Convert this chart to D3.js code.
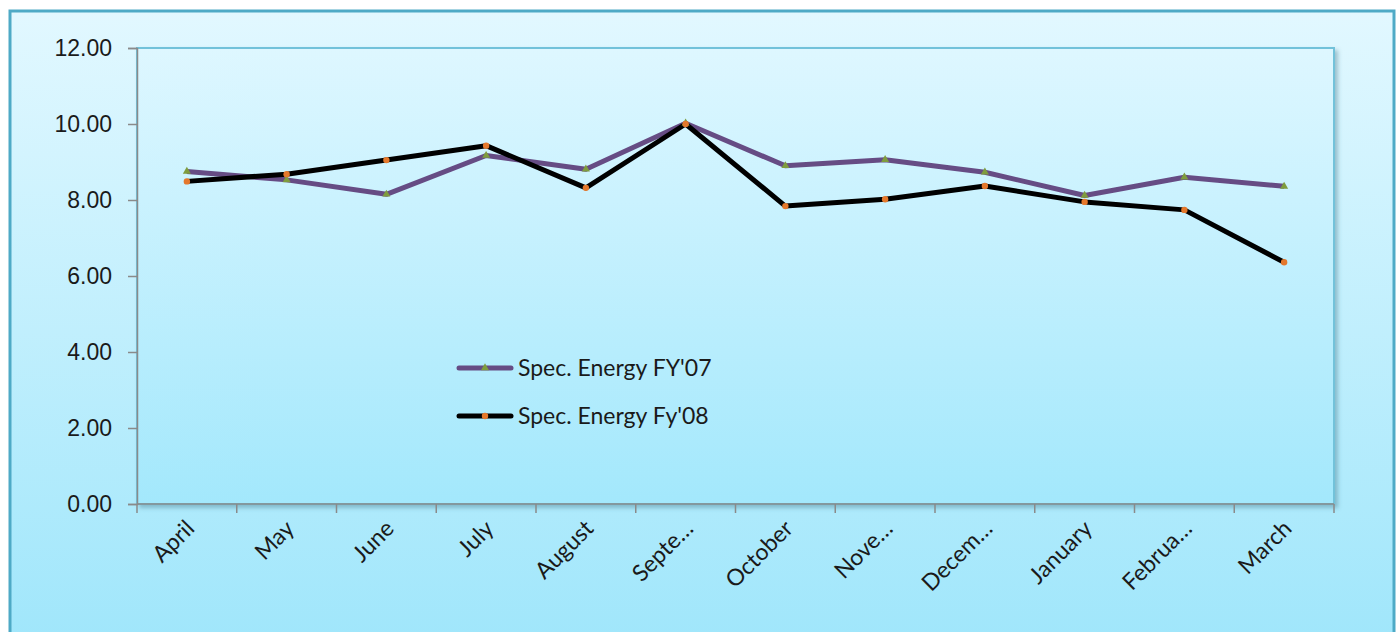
<!DOCTYPE html>
<html>
<head>
<meta charset="utf-8">
<script src="https://cdn.jsdelivr.net/npm/d3@7"></script>
<style>
  body { margin: 0; background: #fff; }
  svg { display: block; }
</style>
</head>
<body>
<div class="chart"></div>
<script>
const months = ["April", "May", "June", "July", "August", "Septe…", "October", "Nove…", "Decem…", "January", "Februa…", "March"]
const fy07 = [8.75, 8.53, 8.15, 9.17, 8.81, 10.02, 8.90, 9.06, 8.73, 8.12, 8.60, 8.36]
const fy08 = [8.49, 8.68, 9.05, 9.43, 8.32, 10.00, 7.84, 8.02, 8.37, 7.95, 7.74, 6.36]
const yTicks = [0, 2, 4, 6, 8, 10, 12]
const seriesNames = ["Spec. Energy FY'07", "Spec. Energy Fy'08"]

const width = 1400
const height = 632
const plot = { left: 137, top: 48, right: 1334, bottom: 504 }
const fontSize = 23

const svg = d3.select(".chart")
  .append("svg")
  .attr("width", width)
  .attr("height", height)
  .style("font-family", "Lato, 'Open Sans', sans-serif")

const defs = svg.append("defs")

const outerGrad = defs.append("linearGradient")
  .attr("id", "outer-grad")
  .attr("x1", 0).attr("y1", 0).attr("x2", 0).attr("y2", 1)
outerGrad.append("stop").attr("offset", "0%").attr("stop-color", "#e2f8ff")
outerGrad.append("stop").attr("offset", "100%").attr("stop-color", "#9fe6fb")

const plotGrad = defs.append("linearGradient")
  .attr("id", "plot-grad")
  .attr("x1", 0).attr("y1", 0).attr("x2", 0).attr("y2", 1)
plotGrad.append("stop").attr("offset", "0%").attr("stop-color", "#def7ff")
plotGrad.append("stop").attr("offset", "100%").attr("stop-color", "#a3e8fc")

const shadow = defs.append("filter")
  .attr("id", "shadow")
  .attr("x", "-5%").attr("y", "-5%").attr("width", "110%").attr("height", "120%")
shadow.append("feDropShadow")
  .attr("dx", 3).attr("dy", 3).attr("stdDeviation", 2)
  .attr("flood-color", "#4a7f90").attr("flood-opacity", 0.45)

// outer chart area
svg.append("rect")
  .attr("x", 10).attr("y", 11)
  .attr("width", 1384).attr("height", 640)
  .attr("fill", "url(#outer-grad)")
  .attr("stroke", "#4eaac6")
  .attr("stroke-width", 3)

// plot area
svg.append("rect")
  .attr("x", plot.left).attr("y", plot.top)
  .attr("width", plot.right - plot.left).attr("height", plot.bottom - plot.top)
  .attr("fill", "url(#plot-grad)")
  .attr("stroke", "#72c2da")
  .attr("stroke-width", 2)
  .attr("filter", "url(#shadow)")

const x = d3.scaleBand()
  .domain(d3.range(months.length))
  .range([plot.left, plot.right])

const y = d3.scaleLinear()
  .domain([0, 12])
  .range([plot.bottom, plot.top])

// y axis
const yAxis = svg.append("g")
  .attr("transform", `translate(${plot.left},0)`)
  .call(d3.axisLeft(y).tickValues(yTicks).tickFormat(d3.format(".2f")).tickSize(9).tickPadding(16))
yAxis.select(".domain").attr("stroke", "#8a8a8a").attr("stroke-width", 1.5)
yAxis.selectAll(".tick line").attr("stroke", "#8a8a8a").attr("stroke-width", 1.5)
yAxis.selectAll(".tick text")
  .attr("fill", "#1a1a1a")
  .attr("font-size", fontSize)

// x axis
const xTickPositions = d3.range(months.length + 1).map(i => plot.left + i * x.step())
const xAxis = svg.append("g")
svg.append("line")
  .attr("x1", plot.left).attr("x2", plot.right)
  .attr("y1", plot.bottom).attr("y2", plot.bottom)
  .attr("stroke", "#8a8a8a").attr("stroke-width", 1.5)
xAxis.selectAll("line.xtick")
  .data(xTickPositions)
  .join("line")
  .attr("class", "xtick")
  .attr("x1", d => d).attr("x2", d => d)
  .attr("y1", plot.bottom).attr("y2", plot.bottom + 9)
  .attr("stroke", "#8a8a8a").attr("stroke-width", 1.5)

xAxis.selectAll("text")
  .data(months)
  .join("text")
  .attr("transform", (d, i) => `translate(${x(i) + x.bandwidth() / 2 + 9},${plot.bottom + 26}) rotate(-45)`)
  .attr("text-anchor", "end")
  .attr("font-size", fontSize)
  .attr("fill", "#1a1a1a")
  .text(d => d)

const line = d3.line()
  .x((d, i) => x(i) + x.bandwidth() / 2)
  .y(d => y(d))

svg.append("path")
  .attr("d", line(fy07))
  .attr("fill", "none")
  .attr("stroke", "#664c84")
  .attr("stroke-width", 5)
  .attr("stroke-linejoin", "round")

svg.append("path")
  .attr("d", line(fy08))
  .attr("fill", "none")
  .attr("stroke", "#000")
  .attr("stroke-width", 5)
  .attr("stroke-linejoin", "round")

const tri = d3.symbol().type(d3.symbolTriangle).size(28)

svg.append("g")
  .selectAll("path")
  .data(fy07)
  .join("path")
  .attr("transform", (d, i) => `translate(${x(i) + x.bandwidth() / 2},${y(d)})`)
  .attr("d", tri)
  .attr("fill", "#7f9c3e")

svg.append("g")
  .selectAll("circle")
  .data(fy08)
  .join("circle")
  .attr("cx", (d, i) => x(i) + x.bandwidth() / 2)
  .attr("cy", d => y(d))
  .attr("r", 3.2)
  .attr("fill", "#e4782c")

// legend
const legend = svg.append("g")
const legendItems = [
  { name: seriesNames[0], color: "#664c84", marker: "tri", y: 368 },
  { name: seriesNames[1], color: "#000", marker: "dot", y: 416 }
]
legendItems.forEach(item => {
  legend.append("line")
    .attr("x1", 459).attr("x2", 511)
    .attr("y1", item.y).attr("y2", item.y)
    .attr("stroke", item.color)
    .attr("stroke-width", 5)
    .attr("stroke-linecap", "round")
  if (item.marker === "tri") {
    legend.append("path")
      .attr("transform", `translate(485,${item.y})`)
      .attr("d", tri)
      .attr("fill", "#7f9c3e")
  } else {
    legend.append("circle")
      .attr("cx", 485).attr("cy", item.y).attr("r", 3.2)
      .attr("fill", "#e4782c")
  }
  legend.append("text")
    .attr("x", 518).attr("y", item.y + 8)
    .attr("font-size", fontSize)
    .attr("fill", "#1a1a1a")
    .text(item.name)
})
</script>
</body>
</html>
